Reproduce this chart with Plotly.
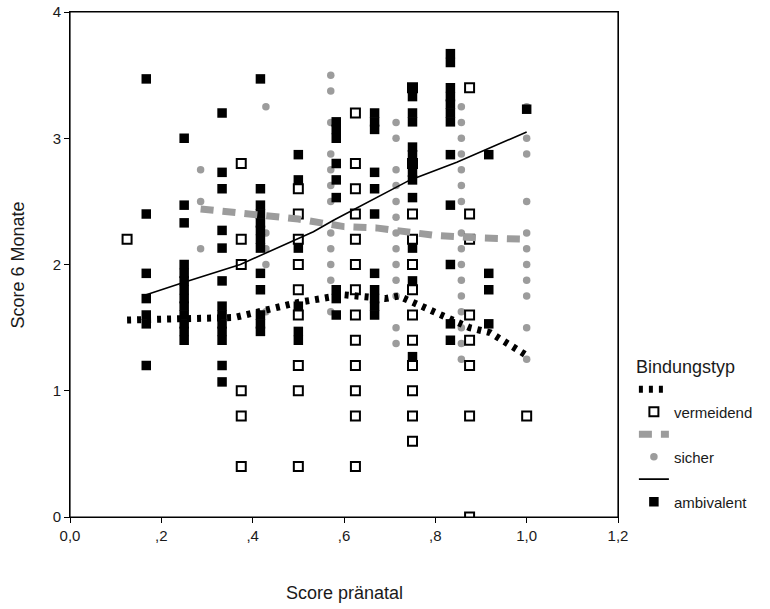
import plotly.graph_objects as go

# ---------------- data ----------------
# vermeidend (open squares): x columns and y values per column
verm_cols = [0.125, 0.375, 0.5, 0.625, 0.75, 0.875, 1.0]
verm_vals = [
    [2.2],
    [2.8, 2.2, 2.0, 1.0, 0.8, 0.4],
    [2.6, 2.4, 2.2, 2.0, 1.8, 1.6, 1.2, 1.0, 0.4],
    [3.2, 2.8, 2.6, 2.4, 2.2, 2.0, 1.8, 1.6, 1.4, 1.2, 1.0, 0.8, 0.4],
    [3.4, 2.8, 2.4, 2.2, 2.0, 1.8, 1.6, 1.4, 1.2, 1.0, 0.8, 0.6],
    [3.4, 2.4, 2.2, 1.6, 1.4, 1.2, 0.8, 0.0],
    [0.8],
]

# sicher (grey dots)
sich_cols = [0.286, 0.429, 0.571, 0.714, 0.857, 1.0]
sich_vals = [
    [2.75, 2.5, 2.125],
    [3.25, 2.25, 2.125, 2.0, 1.625],
    [3.5, 3.375, 3.125, 2.875, 2.75, 2.625, 2.5, 2.25, 2.125, 2.0, 1.875, 1.625],
    [3.125, 3.0, 2.75, 2.625, 2.5, 2.375, 2.25, 2.125, 2.0, 1.875, 1.75, 1.5, 1.375],
    [3.25, 3.125, 3.0, 2.875, 2.75, 2.625, 2.5, 2.25, 2.125, 2.0, 1.875, 1.75, 1.625, 1.5, 1.375, 1.25],
    [3.25, 3.0, 2.875, 2.5, 2.25, 2.125, 2.0, 1.875, 1.75, 1.5, 1.25],
]

# ambivalent (black filled)
amb_cols = [0.167, 0.25, 0.333, 0.417, 0.5, 0.583, 0.667, 0.75, 0.833, 0.917, 1.0]
amb_vals = [
    [3.47, 2.4, 1.93, 1.73, 1.6, 1.53, 1.2],
    [3.0, 2.47, 2.33, 2.0, 1.93, 1.87, 1.8, 1.73, 1.67, 1.6, 1.53, 1.47, 1.4],
    [3.2, 2.73, 2.6, 2.27, 2.13, 1.87, 1.67, 1.6, 1.53, 1.47, 1.4, 1.2, 1.07],
    [3.47, 2.6, 2.47, 2.4, 2.33, 2.27, 2.2, 2.13, 1.93, 1.8, 1.6, 1.53, 1.47],
    [2.87, 2.67, 2.13, 1.67, 1.47, 1.4],
    [3.13, 3.07, 3.0, 2.8, 2.67, 2.53, 1.8, 1.73, 1.6],
    [3.2, 3.13, 3.07, 2.73, 2.6, 2.4, 1.93, 1.8, 1.73, 1.67, 1.6],
    [3.4, 3.33, 3.2, 3.13, 2.93, 2.87, 2.8, 2.73, 2.67, 2.53, 2.13, 1.87, 1.27],
    [3.67, 3.6, 3.4, 3.33, 3.27, 3.2, 3.13, 2.87, 2.47, 2.0, 1.53, 1.4],
    [2.87, 1.93, 1.8, 1.53],
    [3.23],
]

# fit lines
verm_fit_x = [0.125, 0.36, 0.43, 0.5, 0.6, 0.69, 0.72, 0.75, 0.8, 0.833, 0.875, 0.92, 1.0]
verm_fit_y = [1.56, 1.58, 1.64, 1.7, 1.76, 1.73, 1.75, 1.7, 1.62, 1.56, 1.5, 1.46, 1.28]
sich_fit_x = [0.286, 0.37, 0.43, 0.5, 0.55, 0.6, 0.67, 0.72, 0.8, 0.9, 1.0]
sich_fit_y = [2.44, 2.41, 2.38, 2.36, 2.33, 2.3, 2.29, 2.27, 2.23, 2.21, 2.2]
amb_fit_x = [0.167, 0.25, 0.373, 0.533, 0.577, 0.745, 0.847, 1.0]
amb_fit_y = [1.76, 1.86, 2.0, 2.26, 2.35, 2.67, 2.81, 3.05]

x_tickvals = [0.0, 0.2, 0.4, 0.6, 0.8, 1.0, 1.2]
x_ticktext = ["0,0", ",2", ",4", ",6", ",8", "1,0", "1,2"]
y_tickvals = [0, 1, 2, 3, 4]
y_ticktext = ["0", "1", "2", "3", "4"]
x_title = "Score pränatal"
y_title = "Score 6 Monate"
legend_title = "Bindungstyp"


def expand(cols, vals):
    xs, ys = [], []
    for c, v in zip(cols, vals):
        xs += [c] * len(v)
        ys += list(v)
    return xs, ys


vx, vy = expand(verm_cols, verm_vals)
sx, sy = expand(sich_cols, sich_vals)
ax, ay = expand(amb_cols, amb_vals)

GREY = "#9c9c9c"
FONT = "Liberation Sans, Arial, sans-serif"

fig = go.Figure()

# markers
fig.add_trace(go.Scatter(x=sx, y=sy, mode="markers", name="sicher", legendrank=4,
                         marker=dict(symbol="circle", size=7.5, color=GREY)))
fig.add_trace(go.Scatter(x=vx, y=vy, mode="markers", name="vermeidend", legendrank=2,
                         marker=dict(symbol="square-open", size=9, color="black",
                                     line=dict(width=2, color="black"))))
fig.add_trace(go.Scatter(x=ax, y=ay, mode="markers", name="ambivalent", legendrank=6,
                         marker=dict(symbol="square", size=9.5, color="black")))

# fit lines
fig.add_trace(go.Scatter(x=sich_fit_x, y=sich_fit_y, mode="lines", name="", legendrank=3,
                         line=dict(color=GREY, width=7, dash="13px,9px")))
fig.add_trace(go.Scatter(x=verm_fit_x, y=verm_fit_y, mode="lines", name="", legendrank=1,
                         line=dict(color="black", width=7, dash="4px,6px")))
fig.add_trace(go.Scatter(x=amb_fit_x, y=amb_fit_y, mode="lines", name="", legendrank=5,
                         line=dict(color="black", width=1.6)))

fig.update_layout(
    width=770, height=609,
    margin=dict(l=70, r=152, t=12, b=92, autoexpand=False),
    paper_bgcolor="white", plot_bgcolor="white",
    font=dict(family=FONT, size=15, color="#1a1a1a"),
    showlegend=True,
    legend=dict(
        title=dict(text=legend_title, font=dict(size=18)),
        x=1.029, xanchor="left", y=-0.003, yanchor="bottom",
        font=dict(size=15), tracegroupgap=0,
        bgcolor="rgba(0,0,0,0)", itemwidth=30,
    ),
    annotations=[
        dict(text=x_title, xref="paper", yref="paper", x=0.5, y=-0.150,
             xanchor="center", yanchor="middle", showarrow=False,
             font=dict(size=18)),
        dict(text=y_title, xref="paper", yref="paper", x=-0.095, y=0.5,
             xanchor="center", yanchor="middle", showarrow=False, textangle=-90,
             font=dict(size=18)),
    ],
    # frame round the plotting area
    shapes=[dict(type="rect", xref="paper", yref="paper", x0=0, y0=0, x1=1, y1=1,
                 line=dict(color="black", width=1.2), fillcolor="rgba(0,0,0,0)",
                 layer="above")],
)

fig.update_xaxes(
    range=[0, 1.2], tickvals=x_tickvals, ticktext=x_ticktext,
    showline=True, mirror=True, linecolor="black", linewidth=1,
    ticks="outside", ticklen=5, tickcolor="black",
    showgrid=False, zeroline=False, automargin=False,
    ticklabeloverflow="allow", tickfont=dict(size=15),
)
fig.update_yaxes(
    range=[0, 4], tickvals=y_tickvals, ticktext=y_ticktext,
    showline=True, mirror=True, linecolor="black", linewidth=1,
    ticks="outside", ticklen=5, tickcolor="black",
    showgrid=False, zeroline=False, automargin=False,
    ticklabeloverflow="allow", tickfont=dict(size=15),
)

# remove the default 8px page margin so the 770x609 figure fills the window
fig.write_html("out.html", config={"displayModeBar": False},
               post_script="document.body.style.margin='0px';")
